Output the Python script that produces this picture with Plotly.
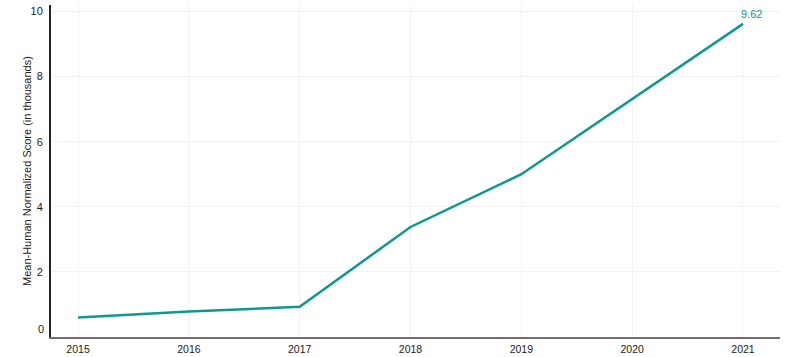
import plotly.graph_objects as go

years = [2015, 2016, 2017, 2018, 2019, 2020, 2021]
scores = [0.6, 0.78, 0.93, 3.38, 5.0, 7.31, 9.62]
y_ticks = [0, 2, 4, 6, 8, 10]
x_ticks = years
end_label = "9.62"
y_title = "Mean-Human Normalized Score (in thousands)"

teal = "#0e9893"
ink = "#241c23"
fig = go.Figure()
fig.add_trace(go.Scatter(x=years, y=scores, mode="lines",
                         line=dict(color=teal, width=2.5), hoverinfo="x+y"))
fig.add_annotation(x=years[-1], y=scores[-1], text=end_label, showarrow=False,
                   xshift=9, yshift=10, font=dict(color=teal, size=11, family="Arial"))
# y-axis title
fig.add_annotation(xref="paper", yref="paper", x=0, y=0.5, text=y_title,
                   textangle=-90, showarrow=False, xanchor="center", yanchor="middle",
                   xshift=-24, font=dict(size=11, color=ink, family="Arial"))
# "0" tick label sits slightly above the axis line in the reference
fig.add_annotation(xref="paper", yref="y", x=0, y=y_ticks[0], text=str(y_ticks[0]),
                   showarrow=False, xanchor="right", yanchor="middle",
                   xshift=-5, yshift=8, font=dict(size=11, color=ink, family="Arial"))

fig.update_layout(
    width=800, height=357,
    margin=dict(l=51, r=20, t=5, b=20),
    paper_bgcolor="white", plot_bgcolor="white",
    showlegend=False,
    font=dict(family="Arial", size=11, color=ink),
    xaxis=dict(range=[2014.756, 2021.334], tickvals=x_ticks, ticktext=[str(v) for v in x_ticks],
               showgrid=True, gridcolor="#f2f2f2", gridwidth=1,
               showline=True, linecolor="#7a6b76", linewidth=2,
               zeroline=False, ticks="", tickfont=dict(size=10.5),
               automargin=False, ticklabelstandoff=1),
    yaxis=dict(range=[0, 10.2], tickvals=y_ticks,
               ticktext=["" if v == 0 else str(v) for v in y_ticks],
               showgrid=True, gridcolor="#f2f2f2", gridwidth=1,
               showline=True, linecolor="#2a1f29", linewidth=2,
               zeroline=False, ticks="", ticklabelstandoff=4,
               automargin=False,
               tickfont=dict(size=11)),
)
fig.write_html("out.html", config={"displayModeBar": False},
               post_script="document.body.style.margin='0';")
